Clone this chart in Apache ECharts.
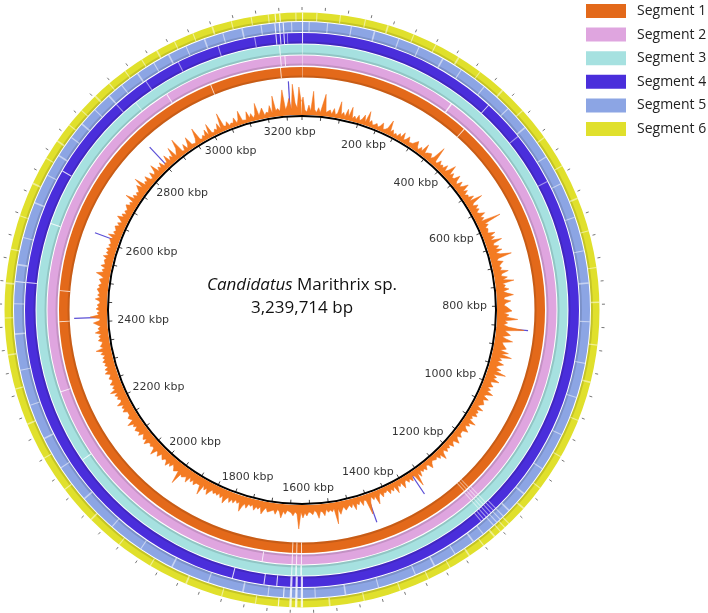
<!DOCTYPE html>
<html><head><meta charset="utf-8">
<script src="https://cdn.jsdelivr.net/npm/echarts@6/dist/echarts.min.js"></script>
<style>html,body{margin:0;padding:0;background:#fff}#c{width:708px;height:613px}</style>
</head><body><div id="c"></div>
<script>
// ---------------- DATA ----------------
const genomeLength = 3239714;
const segmentNames = ['Segment 1', 'Segment 2', 'Segment 3', 'Segment 4', 'Segment 5', 'Segment 6'];

// GC profile: height above backbone, one value per 5 kbp bin (0 .. 3240 kbp), 10 values = 50 kbp per line
const gcProfile = [
  18, 5, 3, 10, 4, 24, 6, 3, 8, 3,
  12, 22, 4, 3, 7, 3, 9, 3, 5, 17,
  4, 7, 3, 11, 4, 14, 3, 6, 3, 8,
  3, 5, 10, 3, 15, 4, 7, 3, 4, 6,
  3, 5, 9, 3, 4, 6, 15, 4, 7, 3,
  5, 3, 7, 4, 10, 3, 5, 9, 4, 3,
  5, 4, 10, 5, 3, 7, 4, 13, 4, 6,
  5, 8, 4, 7, 20, 5, 4, 9, 5, 7,
  5, 10, 4, 8, 15, 5, 9, 5, 6, 12,
  6, 4, 10, 5, 8, 13, 5, 9, 4, 7,
  6, 11, 5, 18, 7, 5, 10, 6, 9, 5,
  7, 12, 6, 9, 5, 25, 7, 10, 6, 8,
  8, 6, 13, 7, 11, 6, 17, 8, 7, 12,
  8, 14, 7, 11, 22, 8, 6, 12, 9, 7,
  9, 7, 15, 8, 7, 13, 8, 19, 7, 10,
  8, 13, 7, 11, 17, 8, 7, 14, 9, 7,
  10, 8, 15, 7, 12, 9, 21, 8, 11, 7,
  12, 28, 9, 8, 15, 7, 11, 18, 8, 9,
  8, 13, 7, 16, 9, 20, 8, 11, 7, 14,
  9, 7, 13, 8, 19, 7, 11, 8, 15, 7,
  8, 11, 6, 10, 7, 14, 8, 6, 12, 7,
  6, 10, 7, 5, 12, 6, 9, 7, 10, 5,
  7, 5, 13, 6, 9, 5, 7, 11, 6, 5,
  6, 9, 5, 7, 11, 5, 6, 9, 4, 7,
  5, 8, 4, 6, 12, 5, 8, 4, 6, 5,
  4, 6, 10, 5, 4, 8, 5, 7, 4, 10,
  5, 18, 6, 4, 9, 5, 8, 4, 6, 11,
  4, 7, 5, 12, 4, 8, 5, 9, 4, 6,
  5, 9, 4, 7, 14, 5, 8, 4, 9, 21,
  6, 5, 10, 4, 8, 6, 12, 5, 9, 6,
  7, 10, 6, 9, 13, 7, 22, 6, 9, 7,
  9, 6, 12, 8, 7, 14, 8, 6, 10, 8,
  7, 11, 8, 13, 7, 24, 9, 7, 11, 8,
  8, 6, 10, 7, 14, 8, 6, 11, 7, 8,
  7, 10, 6, 9, 13, 6, 9, 7, 11, 6,
  8, 6, 11, 7, 10, 16, 7, 9, 6, 10,
  7, 11, 6, 9, 14, 7, 10, 6, 9, 7,
  9, 6, 9, 13, 7, 10, 6, 17, 8, 7,
  8, 11, 7, 10, 6, 13, 8, 7, 11, 9,
  21, 8, 7, 11, 8, 6, 10, 7, 12, 8,
  7, 10, 8, 6, 11, 8, 7, 14, 8, 7,
  9, 7, 8, 12, 7, 10, 8, 6, 11, 8,
  8, 11, 7, 10, 8, 14, 7, 8, 10, 7,
  8, 7, 11, 8, 10, 7, 13, 8, 7, 10,
  8, 11, 7, 14, 8, 10, 7, 11, 8, 7,
  10, 8, 7, 12, 8, 11, 7, 10, 8, 11,
  8, 10, 7, 11, 8, 15, 7, 10, 8, 7,
  11, 8, 10, 7, 13, 8, 10, 7, 8, 14,
  8, 7, 17, 8, 10, 7, 11, 8, 10, 7,
  8, 12, 7, 10, 8, 7, 11, 8, 10, 7,
  7, 10, 6, 9, 14, 7, 9, 6, 11, 7,
  6, 9, 7, 11, 6, 9, 7, 10, 6, 9,
  7, 6, 10, 7, 13, 6, 9, 7, 6, 10,
  6, 9, 5, 8, 12, 6, 9, 5, 8, 6,
  5, 10, 6, 8, 5, 15, 6, 9, 5, 8,
  6, 5, 12, 6, 17, 5, 8, 6, 11, 5,
  4, 10, 5, 7, 14, 4, 8, 5, 10, 4,
  6, 5, 12, 4, 8, 5, 15, 4, 7, 10,
  19, 4, 3, 9, 3, 6, 13, 4, 5, 3,
  7, 17, 4, 3, 6, 4, 10, 3, 14, 4,
  3, 6, 4, 10, 3, 19, 5, 4, 8, 3,
  5, 4, 9, 3, 6, 14, 4, 5, 3, 11,
  4, 8, 3, 6, 17, 4, 5, 11, 3, 6,
  5, 12, 4, 21, 6, 8, 5, 14, 26, 6,
  10, 17, 6, 31, 12, 7, 28, 14
];
const gcBinKbp = 5;

// Blue (second profile) spikes: position (kbp) and height
const spikePosKbp = [857, 2411, 1317, 1445, 2852, 3209, 2614];
const spikeHeight = [32, 33, 26, 30, 28, 34, 26];

// Tick labels on the backbone (kbp)
const tickLabelKbp = [200, 400, 600, 800, 1000, 1200, 1400, 1600, 1800, 2000, 2200, 2400, 2600, 2800, 3000, 3200];
const tickLabels = tickLabelKbp.map(v => v + ' kbp');

// Ring gaps (no hit), kbp ranges, per segment
const gaps1 = [[0,1],[3193,3195],[376,378],[1620,1622],[1630,1632],[1639,1641],[2404,2406],[2470,2472],[3040,3042]];
const gaps2 = [[0,1],[3195,3197],[322,325],[1620,1622],[1630,1632],[1639,1641],[1700,1702],[2260,2262],[2950,2952],[3204,3206]];
const gaps3 = [[0,1],[3195,3197],[1620,1623],[1630,1633],[1639,1641],[2120,2122],[2600,2602]];
const gaps4 = [[0,2],[3190,3192],[3198,3200],[3205,3207],[3212,3213],[380,382],[1618,1622],[1628,1632],[1638,1642],[1666,1668],[1690,1692],[1750,1752],[2480,2482],[2700,2702]];
const gaps5 = [[0,2],[3190,3192],[3198,3200],[3205,3207],[1618,1622],[1628,1632],[1638,1642],[1652,1654],[2480,2482]];
const gaps6 = [[0,2],[3192,3194],[3200,3202],[1618,1622],[1628,1632],[1638,1642],[1660,1662]];
// faint streaks (partial hits)
const streaks1 = [[1230,1232],[1236,1238],[1242,1244]];
const streaks2 = [[1226,1228],[1232,1234],[1238,1240],[1244,1246]];
const streaks3 = [[1226,1228],[1232,1234],[1238,1240],[1244,1246],[2890,2892]];
const streaks4 = [[1220,1222],[1226,1228],[1232,1234],[1238,1240],[1244,1246],[1250,1252],[1256,1258],[2860,2862],[2930,2932],[3000,3002],[3080,3082],[3150,3152],[460,462],[560,562]];
const streaks5 = [[12,14],[45,47],[88,90],[130,133],[176,178],[215,217],[262,265],[301,303],[352,354],[410,412],[455,458],[520,522],[575,577],[640,642],[702,704],[760,763],[830,832],[905,907],[968,970],[1040,1042],[1110,1112],[1165,1168],[1205,1208],[1220,1222],[1228,1230],[1236,1238],[1244,1246],[1268,1270],[1290,1293],[1330,1332],[1372,1375],[1410,1412],[1480,1482],[1540,1543],[1595,1597],[1680,1682],[1725,1728],[1790,1792],[1860,1863],[1925,1927],[1990,1992],[2060,2063],[2130,2132],[2190,2193],[2255,2257],[2320,2322],[2385,2388],[2440,2442],[2510,2513],[2560,2562],[2625,2628],[2680,2682],[2720,2723],[2760,2762],[2790,2793],[2825,2827],[2860,2863],[2890,2892],[2925,2928],[2960,2962],[2990,2993],[3025,3027],[3060,3063],[3095,3097],[3130,3133],[3165,3167],[3220,3222]];
const streaks6 = [[25,27],[66,68],[110,112],[150,153],[198,200],[240,242],[285,288],[330,332],[380,383],[430,432],[490,492],[548,550],[610,613],[670,672],[735,737],[795,798],[870,872],[935,938],[1005,1007],[1075,1077],[1140,1142],[1185,1188],[1222,1224],[1232,1234],[1242,1244],[1255,1258],[1280,1282],[1310,1313],[1350,1352],[1392,1394],[1445,1447],[1510,1512],[1570,1573],[1700,1702],[1760,1762],[1825,1828],[1895,1897],[1960,1962],[2025,2028],[2095,2097],[2160,2162],[2225,2228],[2290,2292],[2350,2353],[2415,2417],[2475,2478],[2535,2537],[2595,2597],[2655,2658],[2705,2707],[2740,2743],[2775,2777],[2808,2810],[2842,2845],[2875,2877],[2910,2912],[2945,2947],[2975,2978],[3010,3012],[3045,3047],[3080,3083],[3115,3117],[3150,3152],[3180,3182],[3228,3230]];

// ---------------- STYLE ----------------
const segmentColors = ['#E3691A', '#DFA5DF', '#A6E1E0', '#4A2EDB', '#8CA5E4', '#E0E02C'];
const ringRadii = [[232.5, 243], [244.5, 254.5], [255.5, 265.5], [266.5, 277], [278, 288], [289, 297.5]];
const CX = 302, CY = 310;

const gapSets = [gaps1, gaps2, gaps3, gaps4, gaps5, gaps6];
const streakSets = [streaks1, streaks2, streaks3, streaks4, streaks5, streaks6];

function angleOf(p, cs) { return Math.atan2(p[1] - cs.cy, p[0] - cs.cx); }

function ringSeries(i) {
  const data = [[0, genomeLength, 0]]
    .concat(gapSets[i].map(g => [g[0] * 1000, g[1] * 1000, 1]))
    .concat(streakSets[i].map(g => [g[0] * 1000, g[1] * 1000, 2]));
  const rr = ringRadii[i];
  return {
    type: 'custom', name: segmentNames[i], coordinateSystem: 'polar', polarIndex: 0,
    itemStyle: { color: segmentColors[i] }, silent: true,
    data: data,
    renderItem: function (params, api) {
      const cs = params.coordSys;
      const s = api.value(0), e = api.value(1), kind = api.value(2);
      const p1 = api.coord([rr[0], s]), p2 = api.coord([rr[0], e]), p3 = api.coord([rr[1], s]);
      const r0 = Math.hypot(p1[0] - cs.cx, p1[1] - cs.cy);
      const r1 = Math.hypot(p3[0] - cs.cx, p3[1] - cs.cy);
      let a1 = angleOf(p1, cs), a2 = angleOf(p2, cs);
      if (a2 <= a1 + 1e-9) a2 += Math.PI * 2;
      if (kind === 0) {
        return {
          type: 'group', children: [
            { type: 'sector', shape: { cx: cs.cx, cy: cs.cy, r0: r0, r: r1, startAngle: a1, endAngle: a2, clockwise: true }, style: { fill: segmentColors[i] } },
            { type: 'sector', shape: { cx: cs.cx, cy: cs.cy, r0: r0, r: r0 + 2, startAngle: a1, endAngle: a2, clockwise: true }, style: { fill: 'rgba(0,0,0,0.12)' } }
          ]
        };
      }
      return { type: 'sector', shape: { cx: cs.cx, cy: cs.cy, r0: r0, r: r1, startAngle: a1, endAngle: a2, clockwise: true },
        style: { fill: '#ffffff', opacity: kind === 1 ? 0.8 : 0.5 } };
    }
  };
}

// GC line data: [radius value, angle value]
const gcData = gcProfile.map((h, i) => [h, Math.min(genomeLength, (i * gcBinKbp + gcBinKbp / 2) * 1000)]);
gcData.unshift([gcProfile[gcProfile.length - 1], 0]);
gcData.push([gcProfile[gcProfile.length - 1], genomeLength]);

// label offsets (computed from angle so text sits inside the backbone)
const mctx = document.createElement('canvas').getContext('2d');
mctx.font = '11px "DejaVu Sans"';
const labelData = tickLabelKbp.map((v, i) => {
  const th = v * 1000 / genomeLength * Math.PI * 2;
  const w = mctx.measureText(tickLabels[i]).width;
  return { value: [185, v * 1000], label: { offset: [-w / 2 * Math.sin(th), 7 * Math.cos(th)] } };
});

const hiddenRadius = (idx, max) => ({ polarIndex: idx, type: 'value', min: 0, max: max, show: false });

const option = {
  animation: false,
  backgroundColor: '#ffffff',
  color: segmentColors,
  legend: {
    data: segmentNames, orient: 'vertical', left: 586, top: 4, padding: 0,
    itemWidth: 40, itemHeight: 14, itemGap: 9.6, icon: 'rect',
    textStyle: { fontFamily: 'Open Sans', fontSize: 14, color: '#222', lineHeight: 14, padding: [0, 0, 0, 6] },
    selectedMode: false
  },
  polar: [
    { center: [CX, CY], radius: [0, 300] },
    { center: [CX, CY], radius: [195, 250] },
    { center: [CX, CY], radius: [0, 194] }
  ],
  angleAxis: [
    { polarIndex: 0, type: 'value', min: 0, max: genomeLength, startAngle: 90, clockwise: true, interval: 40000,
      axisLine: { show: false }, axisTick: { show: true, length: 3, lineStyle: { color: '#777', width: 1 } },
      axisLabel: { show: false }, splitLine: { show: false }, splitArea: { show: false } },
    { polarIndex: 1, type: 'value', min: 0, max: genomeLength, startAngle: 90, clockwise: true, show: false },
    { polarIndex: 2, type: 'value', min: 0, max: genomeLength, startAngle: 90, clockwise: true, interval: 50000,
      axisLine: { show: true, lineStyle: { color: '#000', width: 2 } },
      axisTick: { show: true, inside: true, length: 4, lineStyle: { color: '#444', width: 1 } },
      axisLabel: { show: false }, splitLine: { show: false }, splitArea: { show: false } }
  ],
  radiusAxis: [hiddenRadius(0, 300), hiddenRadius(1, 55), hiddenRadius(2, 1)],
  graphic: [
    { type: 'text', x: CX, y: 285, silent: true,
      style: { text: '{i|Candidatus} Marithrix sp.', fontFamily: 'Open Sans', fontSize: 17, fill: '#111', align: 'center', verticalAlign: 'middle',
        rich: { i: { fontFamily: 'Open Sans', fontSize: 17, fontStyle: 'italic', fill: '#111' } } } },
    { type: 'text', x: CX, y: 308, silent: true,
      style: { text: '3,239,714 bp', fontFamily: 'Open Sans', fontSize: 17, fill: '#111', align: 'center', verticalAlign: 'middle' } }
  ],
  series: [
    ringSeries(0), ringSeries(1), ringSeries(2), ringSeries(3), ringSeries(4), ringSeries(5),
    { type: 'line', coordinateSystem: 'polar', polarIndex: 1, data: gcData, symbol: 'none', silent: true,
      lineStyle: { color: '#F26E18', width: 0.5 }, areaStyle: { color: '#F47B22', opacity: 1 } },
    { type: 'custom', coordinateSystem: 'polar', polarIndex: 1, silent: true,
      data: spikePosKbp.map((p, i) => [p * 1000, spikeHeight[i]]),
      renderItem: function (params, api) {
        const a = api.coord([0, api.value(0)]), b = api.coord([api.value(1), api.value(0)]);
        return { type: 'line', shape: { x1: a[0], y1: a[1], x2: b[0], y2: b[1] }, style: { stroke: '#5B4FD6', lineWidth: 1.2 } };
      } },
    { type: 'scatter', coordinateSystem: 'polar', polarIndex: 0, symbolSize: 0, silent: true,
      data: labelData,
      label: { show: true, position: 'inside', color: '#000', fontFamily: 'DejaVu Sans', fontSize: 11,
        formatter: p => tickLabels[p.dataIndex] } }
  ]
};
const chart = echarts.init(document.getElementById('c'), null, { renderer: 'canvas' });
chart.setOption(option);
</script></body></html>
